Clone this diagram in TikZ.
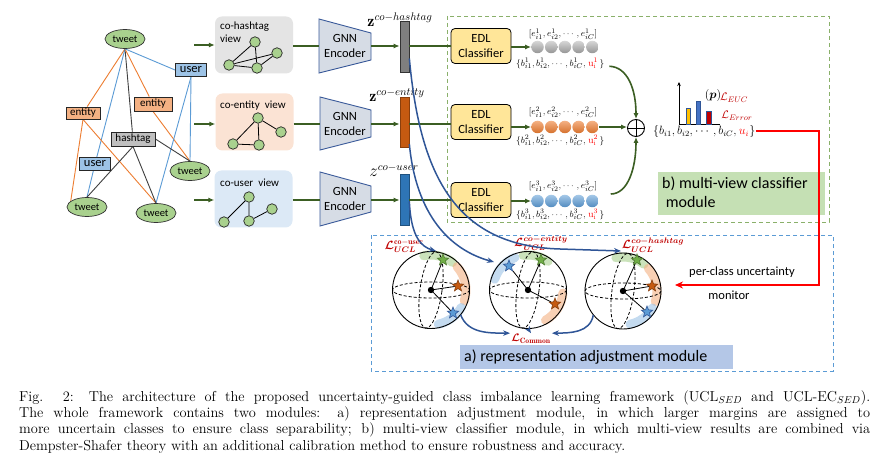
\documentclass[tikz,border=0pt]{standalone}
\usepackage{amsmath,amssymb,bm}
\usepackage{fontspec}
\newfontfamily\carl{Carlito}
\usetikzlibrary{arrows.meta,shapes.geometric,calc,backgrounds}
\definecolor{dgreen}{HTML}{3B5E23}
\definecolor{tgreen}{HTML}{A9D18E}
\definecolor{ublue}{HTML}{9DC3E6}
\definecolor{eorange}{HTML}{F4B183}
\definecolor{hgray}{HTML}{BFBFBF}
\definecolor{lorange}{HTML}{ED7D31}
\definecolor{lblue}{HTML}{5B9BD5}
\definecolor{vgray}{HTML}{E4E4E4}
\definecolor{vpeach}{HTML}{FBE3D4}
\definecolor{vblue}{HTML}{DCE9F6}
\definecolor{gnnfill}{HTML}{D6DCE5}
\definecolor{gnndraw}{HTML}{3A5A9A}
\definecolor{edlfill}{HTML}{FFE699}
\definecolor{cblue}{HTML}{2F5597}
\definecolor{lred}{HTML}{C00000}
\definecolor{bgreen}{HTML}{C5E0B4}
\definecolor{abox}{HTML}{B4C7E7}
\definecolor{dashgreen}{HTML}{8AB06A}
\definecolor{dashblue}{HTML}{5B9BD5}
\definecolor{barh}{HTML}{7F7F7F}
\definecolor{bare}{HTML}{C55A11}
\definecolor{baru}{HTML}{2E75B6}
\definecolor{sgreen}{HTML}{70AD47}
\definecolor{sgreend}{HTML}{4E7A30}
\definecolor{sorange}{HTML}{C55A11}
\definecolor{sorganged}{HTML}{843C0C}
\definecolor{sblue}{HTML}{5B9BD5}
\definecolor{sblued}{HTML}{2F5597}
\definecolor{chy}{HTML}{FFC000}
\definecolor{chb}{HTML}{4472C4}
\definecolor{glg}{HTML}{A9D18E}
\definecolor{glo}{HTML}{F4B183}
\definecolor{glb}{HTML}{9DC3E6}
\definecolor{ballg}{HTML}{A6A6A6}
\tikzset{
 tw/.style={ellipse, draw=black!80, line width=0.7pt, fill=tgreen, minimum width=40pt, minimum height=19pt, inner sep=0pt, font=\carl\fontsize{10.5}{12}\selectfont},
 lab/.style={rectangle, draw=black!85, line width=0.9pt, inner sep=0pt, minimum height=13pt, font=\carl\fontsize{11}{12}\selectfont},
 eo/.style={lorange, line width=0.9pt},
 eb/.style={lblue, line width=0.9pt},
 ek/.style={black!75, line width=0.9pt},
 garrow/.style={dgreen, line width=1.6pt, -{Latex[length=6pt,width=5pt]}},
 gline/.style={dgreen, line width=1.6pt},
 vbox/.style={rounded corners=7pt, minimum width=78pt, minimum height=57pt, inner sep=0pt},
 vlab/.style={inner sep=0pt, align=left, font=\carl\fontsize{11}{13}\selectfont},
 vn/.style={circle, draw=black!85, fill=tgreen, minimum size=10.5pt, inner sep=0pt, line width=0.7pt},
 ve/.style={black, line width=0.8pt},
 gnn/.style={fill=gnnfill, draw=gnndraw, line width=0.9pt},
 gtext/.style={align=center, font=\carl\fontsize{12.5}{15}\selectfont},
 zbar/.style={rectangle, draw=black!80, line width=0.7pt, minimum width=9pt, minimum height=51pt, inner sep=0pt},
 zlab/.style={inner sep=0pt, font=\fontsize{16}{18}\selectfont},
 edl/.style={rectangle, rounded corners=4pt, draw=black, line width=0.8pt, fill=edlfill, minimum width=60pt, minimum height=35pt, inner sep=0pt, align=center, font=\carl\fontsize{12.5}{15}\selectfont},
 bnode/.style={circle, inner sep=0pt, minimum size=12.5pt},
 mlab/.style={inner sep=0pt, font=\fontsize{9.5}{11}\selectfont},
 mpart/.style={inner sep=0pt, anchor=base west, font=\fontsize{9.5}{11}\selectfont},
 rpart/.style={inner sep=0pt, anchor=base west, font=\fontsize{12}{13}\selectfont},
 bcurve/.style={cblue, line width=1.5pt, -{Stealth[length=7pt,width=5.5pt]}},
 glow/.style={line width=9pt, opacity=0.6, line cap=round},
 starn/.style={star, star points=5, star point ratio=2.3, minimum size=12pt, inner sep=0pt, line width=0.6pt},
 rlab/.style={inner sep=1pt, text=lred, font=\fontsize{12}{13}\selectfont},
}
\begin{document}
\begin{tikzpicture}[x=1pt,y=-1pt]
\useasboundingbox (0,0) rectangle (892,465);

% ---------------- left graph ----------------
\node[tw] (t1) at (125,39) {tweet};
\node[lab, fill=ublue, minimum width=31pt, font=\carl\fontsize{12.5}{13}\selectfont] (u1) at (191,70) {user};
\node[lab, fill=eorange, minimum width=34pt, minimum height=12pt] (en1) at (83,113) {entity};
\node[lab, fill=eorange, minimum width=38pt, minimum height=14pt] (en2) at (153,104) {entity};
\node[lab, fill=hgray, minimum width=44pt, minimum height=14pt] (h1) at (133,139) {hashtag};
\node[lab, fill=ublue, minimum width=31pt, font=\carl\fontsize{12.5}{13}\selectfont] (u2) at (95,164) {user};
\node[tw] (t2) at (190,171) {tweet};
\node[tw] (t3) at (87,207) {tweet};
\node[tw] (t4) at (156,213) {tweet};
\begin{scope}[on background layer]
\fill[white] (0,0) rectangle (892,465);
\draw[eo] (t1.south) -- (en1);
\draw[eb] (t1.south) -- (u2);
\draw[eb] (u2) -- (t3.north);
\draw[ek] (t1.south) -- (h1);
\draw[eo] (t1.south) -- (en2);
\draw[eb] (t1.south) -- (u1.west);
\draw[eo] (en1.south) -- (t3.160);
\draw[eo] (en1.south) -- (t4.north);
\draw[eo] (en2.south) -- (t2.north);
\draw[eb] (u1.south) -- (t2.north);
\draw[eb] (u1.south) -- (t4.north);
\draw[ek] (h1.south) -- (t3.north);
\draw[ek] (h1.south) -- (t4.north);
\draw[ek] (h1.east) -- (t2.north);
\end{scope}

% ---------------- views ----------------
\node[vbox, fill=vgray] (v1) at (254,45) {};
\node[vbox, fill=vpeach] (v2) at (254.5,122) {};
\node[vbox, fill=vblue] (v3) at (253.5,199) {};
\node[vlab, anchor=north west] (v1l) at (220,22) {co-hashtag\\view};
\node[vlab, anchor=west] (v2l) at (220,106) {co-entity\ \ view};
\node[vlab, anchor=west] (v3l) at (220,183) {co-user\ \ view};
\coordinate (ga1) at (194,45);
\coordinate (ga2) at (194,124);
\coordinate (ga3) at (194,200);
\draw[garrow] (ga1) -- (ga1 -| v1.west);
\draw[garrow] (ga2) -- (ga2 -| v2.west);
\draw[garrow] (ga3) -- (ga3 -| v3.west);
% small graphs
\node[vn] (a1) at (255,42) {};
\node[vn] (a2) at (277,53) {};
\node[vn] (a3) at (229,65) {};
\node[vn] (a4) at (257,68) {};
\draw[ve] (a1) -- (a3) (a1) -- (a4) (a3) -- (a2) (a3) -- (a4) (a4) -- (a2);
\node[vn] (b1) at (258,118) {};
\node[vn] (b2) at (281,132) {};
\node[vn] (b3) at (233,144) {};
\node[vn] (b4) at (259,145) {};
\draw[ve] (b1) -- (b2) (b1) -- (b3) (b1) -- (b4) (b3) -- (b4);
\node[vn] (c1) at (249,197) {};
\node[vn] (c2) at (272,209) {};
\node[vn] (c3) at (224,222) {};
\node[vn] (c4) at (249,221) {};
\draw[ve] (c1) -- (c3) (c1) -- (c4) (c4) -- (c2);

% ---------------- GNN encoders ----------------
\draw[gnn] (319,19) -- (371,33) -- (371,60) -- (319,73) -- cycle;
\draw[gnn] (320,97) -- (371,110) -- (371,137) -- (320,150) -- cycle;
\draw[gnn] (320,172) -- (371,186) -- (371,212) -- (320,226) -- cycle;
\node[gtext] (g1) at (345,46) {GNN\\Encoder};
\node[gtext] (g2) at (345,124) {GNN\\Encoder};
\node[gtext] (g3) at (345,199) {GNN\\Encoder};
\coordinate (g1l) at (319,46);
\coordinate (g2l) at (320,124);
\coordinate (g3l) at (320,200);
\coordinate (g1r) at (371,46);
\coordinate (g2r) at (371,124);
\coordinate (g3r) at (371,200);
\draw[gline] (v1.east |- g1l) -- (g1l);
\draw[gline] (v2.east |- g2l) -- (g2l);
\draw[gline] (v3.east |- g3l) -- (g3l);

% ---------------- z bars ----------------
\node[zbar, fill=barh] (zh) at (404.5,46.5) {};
\node[zbar, fill=bare, minimum height=50pt, draw=bare!70!black] (ze) at (404.5,122) {};
\node[zbar, fill=baru, draw=baru!70!black] (zu) at (404.5,199.5) {};
\node[zlab] (zlh) at (400,20) {$\mathbf{z}^{co-hashtag}$};
\node[zlab] (zle) at (397,95) {$\mathbf{z}^{co-entity}$};
\node[zlab] (zlu) at (394,170) {$z^{co-user}$};
\draw[garrow] (g1r) -- (g1r -| zh.west);
\draw[garrow] (g2r) -- (g2r -| ze.west);
\draw[garrow] (g3r) -- (g3r -| zu.west);

% ---------------- module b box ----------------
\draw[dashgreen, dashed, line width=0.9pt, dash pattern=on 4pt off 3pt] (447,16) rectangle (829,222);
\node[fill=bgreen, minimum width=167pt, minimum height=43pt, inner sep=0pt] (mb) at (741.5,193.5) {};
\node[anchor=north west, inner sep=0pt, align=left, font=\carl\fontsize{16}{18.5}\selectfont] (mbt) at (662,177) {b) multi-view classifier\\\ module};

% ---------------- EDL classifiers ----------------
\node[edl] (e1) at (481,46) {EDL\\Classifier};
\node[edl] (e2) at (481,122) {EDL\\Classifier};
\node[edl] (e3) at (481,200) {EDL\\Classifier};
\draw[gline] (zh.east |- g1r) -- (g1r -| e1.west);
\draw[gline] (ze.east |- g2r) -- (g2r -| e2.west);
\draw[gline] (zu.east |- g3r) -- (g3r -| e3.west);

% balls
\foreach \i in {1,...,5} {
  \node[bnode, top color=ballg!45!white, bottom color=ballg!90!black] (p1\i) at ({537.5+13.7*(\i-1)},47) {};
  \node[bnode, top color=lorange!60!white, bottom color=lorange!90!black] (p2\i) at ({537.5+13.7*(\i-1)},127) {};
  \node[bnode, top color=lblue!55!white, bottom color=lblue!90!black] (p3\i) at ({537.5+13.7*(\i-1)},201) {};
}
\draw[garrow] (e1.east |- p11) -- (p11.west);
\draw[garrow] (e2.east |- p21) -- (p21.west);
\draw[garrow] (e3.east |- p31) -- (p31.west);
\node[mlab] (el1) at (563,34) {$[e^1_{i1}, e^1_{i2}, \cdots, e^1_{iC}]$};
\node[mlab] (el2) at (563,112) {$[e^2_{i1}, e^2_{i2}, \cdots, e^2_{iC}]$};
\node[mlab] (el3) at (563,186) {$[e^3_{i1}, e^3_{i2}, \cdots, e^3_{iC}]$};
% belief labels: black part, red part, closing brace
\node[mpart] (bl1) at (516,66.5) {$\{b^1_{i1}, b^1_{i2}, \cdots, b^1_{iC},\,$};
\node[mpart, text=red] (bu1) at ([xshift=0.8pt]bl1.base east) {$\mathrm{u}^1_{\mathrm{i}}$};
\node[mpart] (bz1) at ([xshift=1pt]bu1.base east) {$\}$};
\node[mpart] (bl2) at (516,143.5) {$\{b^2_{i1}, b^2_{i2}, \cdots, b^2_{iC},\,$};
\node[mpart, text=red] (bu2) at ([xshift=0.8pt]bl2.base east) {$\mathrm{u}^2_{\mathrm{i}}$};
\node[mpart] (bz2) at ([xshift=1pt]bu2.base east) {$\}$};
\node[mpart] (bl3) at (516,217.5) {$\{b^3_{i1}, b^3_{i2}, \cdots, b^3_{iC},\,$};
\node[mpart, text=red] (bu3) at ([xshift=0.8pt]bl3.base east) {$\mathrm{u}^3_{\mathrm{i}}$};
\node[mpart] (bz3) at ([xshift=1pt]bu3.base east) {$\}$};

% oplus
\node[circle, draw=black, line width=0.9pt, minimum size=17pt, inner sep=0pt] (op) at (636,128) {};
\draw[line width=0.9pt] (op.north) -- (op.south) (op.west) -- (op.east);
\draw[garrow] (p25.east) -- (p25.east -| op.west);
\draw[garrow] ([xshift=5pt,yshift=-2pt]bz1.east) .. controls (628,67) and (636,90) .. (op.north);
\draw[garrow] ([xshift=12pt,yshift=7pt]p35.east) .. controls (628,194) and (636,168) .. (op.south);

% result and chart
\node[rpart] (resa) at (653,134.5) {$\{b_{i1}, b_{i2}, \cdots, b_{iC},\,$};
\node[rpart, text=red] (resu) at (resa.base east) {$u_{i}$};
\node[rpart] (res) at (resu.base east) {$\}$};
\draw[line width=0.8pt, -{Stealth[length=4pt,width=3.5pt]}] (679,124) -- (679,82);
\draw[line width=0.8pt] (679,124) -- (720,124);
\draw[draw=cblue, line width=0.6pt, fill=chy] (686,108) rectangle (690,124);
\draw[draw=cblue, line width=0.6pt, fill=chb] (696,101) rectangle (700,124);
\draw[draw=cblue, line width=0.6pt, fill=lred] (706,111) rectangle (711,124);
\node[inner sep=0pt, font=\fontsize{12}{13}\selectfont] (pp) at (713,96) {$(\bm{p})$};
\node[rlab, font=\fontsize{11}{12}\selectfont] (leuc) at (734,98) {$\mathcal{L}_{EUC}$};
\node[rlab, font=\fontsize{11}{12}\selectfont] (lerr) at (737,116) {$\mathcal{L}_{Error}$};

% ---------------- module a box ----------------
\draw[dashblue, dashed, line width=0.9pt, dash pattern=on 4pt off 3pt] (371,235) rectangle (833,371);
\node[fill=abox, minimum width=273pt, minimum height=24pt, inner sep=0pt] (ma) at (596.5,357) {};
\node[anchor=west, inner sep=0pt, font=\carl\fontsize{16}{18}\selectfont] (mat) at (464,357) {a) representation adjustment module};

% ---------------- spheres ----------------
\node[circle, minimum size=77pt, inner sep=0pt] (s1) at (431,290) {};
\node[circle, minimum size=77pt, inner sep=0pt] (s2) at (528,290) {};
\node[circle, minimum size=76pt, inner sep=0pt] (s3) at (623,291) {};
% glows (canvas angles)
\draw[glow, glg] ($(s1)+(52:35pt)$) arc[start angle=52, end angle=102, radius=35pt];
\draw[glow, glo] ($(s1)+(-18:35pt)$) arc[start angle=-18, end angle=42, radius=35pt];
\draw[glow, glb] ($(s1)+(-78:35pt)$) arc[start angle=-78, end angle=-30, radius=35pt];
\draw[glow, glb] ($(s2)+(112:35pt)$) arc[start angle=112, end angle=162, radius=35pt];
\draw[glow, glg] ($(s2)+(55:35pt)$) arc[start angle=55, end angle=98, radius=35pt];
\draw[glow, glo] ($(s2)+(-60:35pt)$) arc[start angle=-60, end angle=-5, radius=35pt];
\draw[glow, glg] ($(s3)+(52:34pt)$) arc[start angle=52, end angle=102, radius=34pt];
\draw[glow, glo] ($(s3)+(-18:34pt)$) arc[start angle=-18, end angle=42, radius=34pt];
\draw[glow, glb] ($(s3)+(-78:34pt)$) arc[start angle=-78, end angle=-30, radius=34pt];
% outlines
\foreach \s/\r in {s1/38.5,s2/38.5,s3/38} {
  \draw[line width=0.9pt] (\s) circle [radius=\r];
  \draw[dashed, line width=0.8pt, dash pattern=on 3pt off 2pt] (\s) ellipse [x radius=\r, y radius=8];
  \draw[dashed, line width=0.8pt, dash pattern=on 3pt off 2pt, rotate around={-8:(\s)}] (\s) ellipse [x radius=11, y radius=\r];
}
% stars
\node[starn, fill=sgreen, draw=sgreend] (k1g) at ($(s1)+(12,-30)$) {};
\node[starn, fill=sorange, draw=sorganged] (k1o) at ($(s1)+(27,-4)$) {};
\node[starn, fill=sblue, draw=sblued] (k1b) at ($(s1)+(22,23)$) {};
\node[starn, fill=sblue, draw=sblued] (k2b) at ($(s2)+(-19,-24)$) {};
\node[starn, fill=sgreen, draw=sgreend] (k2g) at ($(s2)+(13,-30)$) {};
\node[starn, fill=sorange, draw=sorganged] (k2o) at ($(s2)+(27,14)$) {};
\node[starn, fill=sgreen, draw=sgreend] (k3g) at ($(s3)+(14,-31)$) {};
\node[starn, fill=sorange, draw=sorganged] (k3o) at ($(s3)+(29,-5)$) {};
\node[starn, fill=sblue, draw=sblued] (k3b) at ($(s3)+(24,21)$) {};
\foreach \s/\a/\b/\c in {s1/k1g/k1o/k1b, s2/k2b/k2g/k2o, s3/k3g/k3o/k3b} {
  \draw[line width=0.8pt] (\s.center) -- (\a) (\s.center) -- (\b) (\s.center) -- (\c);
  \fill (\s) circle [radius=3.2];
}
% labels
\node[rlab] (lu) at (404,246) {$\bm{\mathcal{L}}^{\mathbf{co-user}}_{\bm{UCL}}$};
\node[rlab] (le) at (541,243) {$\bm{\mathcal{L}}^{\bm{co-entity}}_{\bm{UCL}}$};
\node[rlab] (lh) at (653,245) {$\bm{\mathcal{L}}^{\bm{co-hashtag}}_{\bm{UCL}}$};
\node[rlab, font=\fontsize{11}{12}\selectfont] (lc) at (531,339) {$\bm{\mathcal{L}}_{\mathbf{Common}}$};

% blue curves from bars
\coordinate (hA) at (621,251);
\coordinate (eA) at (494,262);
\coordinate (uA) at (436,251);
\draw[bcurve] ([yshift=-12pt]zh.east) .. controls (420,175) and (455,246) .. (560,249) -- (hA);
\draw[bcurve] ([yshift=-22pt]ze.east) .. controls (416,215) and (450,250) .. (eA);
\draw[bcurve] ([yshift=-2pt]zu.east) .. controls (411,238) and (422,247) .. (uA);
% to common loss
\draw[bcurve] (s1.-40) .. controls (468,334) and (490,333) .. (lc.north west);
\draw[bcurve] (s2.south) -- (lc.north);
\draw[bcurve] (s3.-141) .. controls (590,333) and (570,333) .. (lc.north east);

% red monitor connector
\node[inner sep=0pt, font=\carl\fontsize{12.5}{14}\selectfont] (pc) at (742,272) {per-class uncertainty};
\node[inner sep=0pt, font=\carl\fontsize{12.5}{14}\selectfont] (mon) at (729,295) {monitor};
\coordinate (rc) at (819,285);
\coordinate (ra) at (675,285);
\draw[red, line width=2pt, -{Stealth[length=8pt,width=7pt]}] (res.east) -| (rc) -- (ra);

% ---------------- caption ----------------
\node[anchor=north west, inner sep=0pt, text width=851pt, align=justify, font=\fontsize{14.4}{16.4}\selectfont] (cap) at (19,390) {Fig. 2: The architecture of the proposed uncertainty-guided class imbalance learning framework (UCL$_{SED}$ and UCL-EC$_{SED}$).\linebreak The whole framework contains two modules: a) representation adjustment module, in which larger margins are assigned to\linebreak more uncertain classes to ensure class separability; b) multi-view classifier module, in which multi-view results are combined via\linebreak Dempster-Shafer theory with an additional calibration method to ensure robustness and accuracy.};
\end{tikzpicture}
\end{document}
